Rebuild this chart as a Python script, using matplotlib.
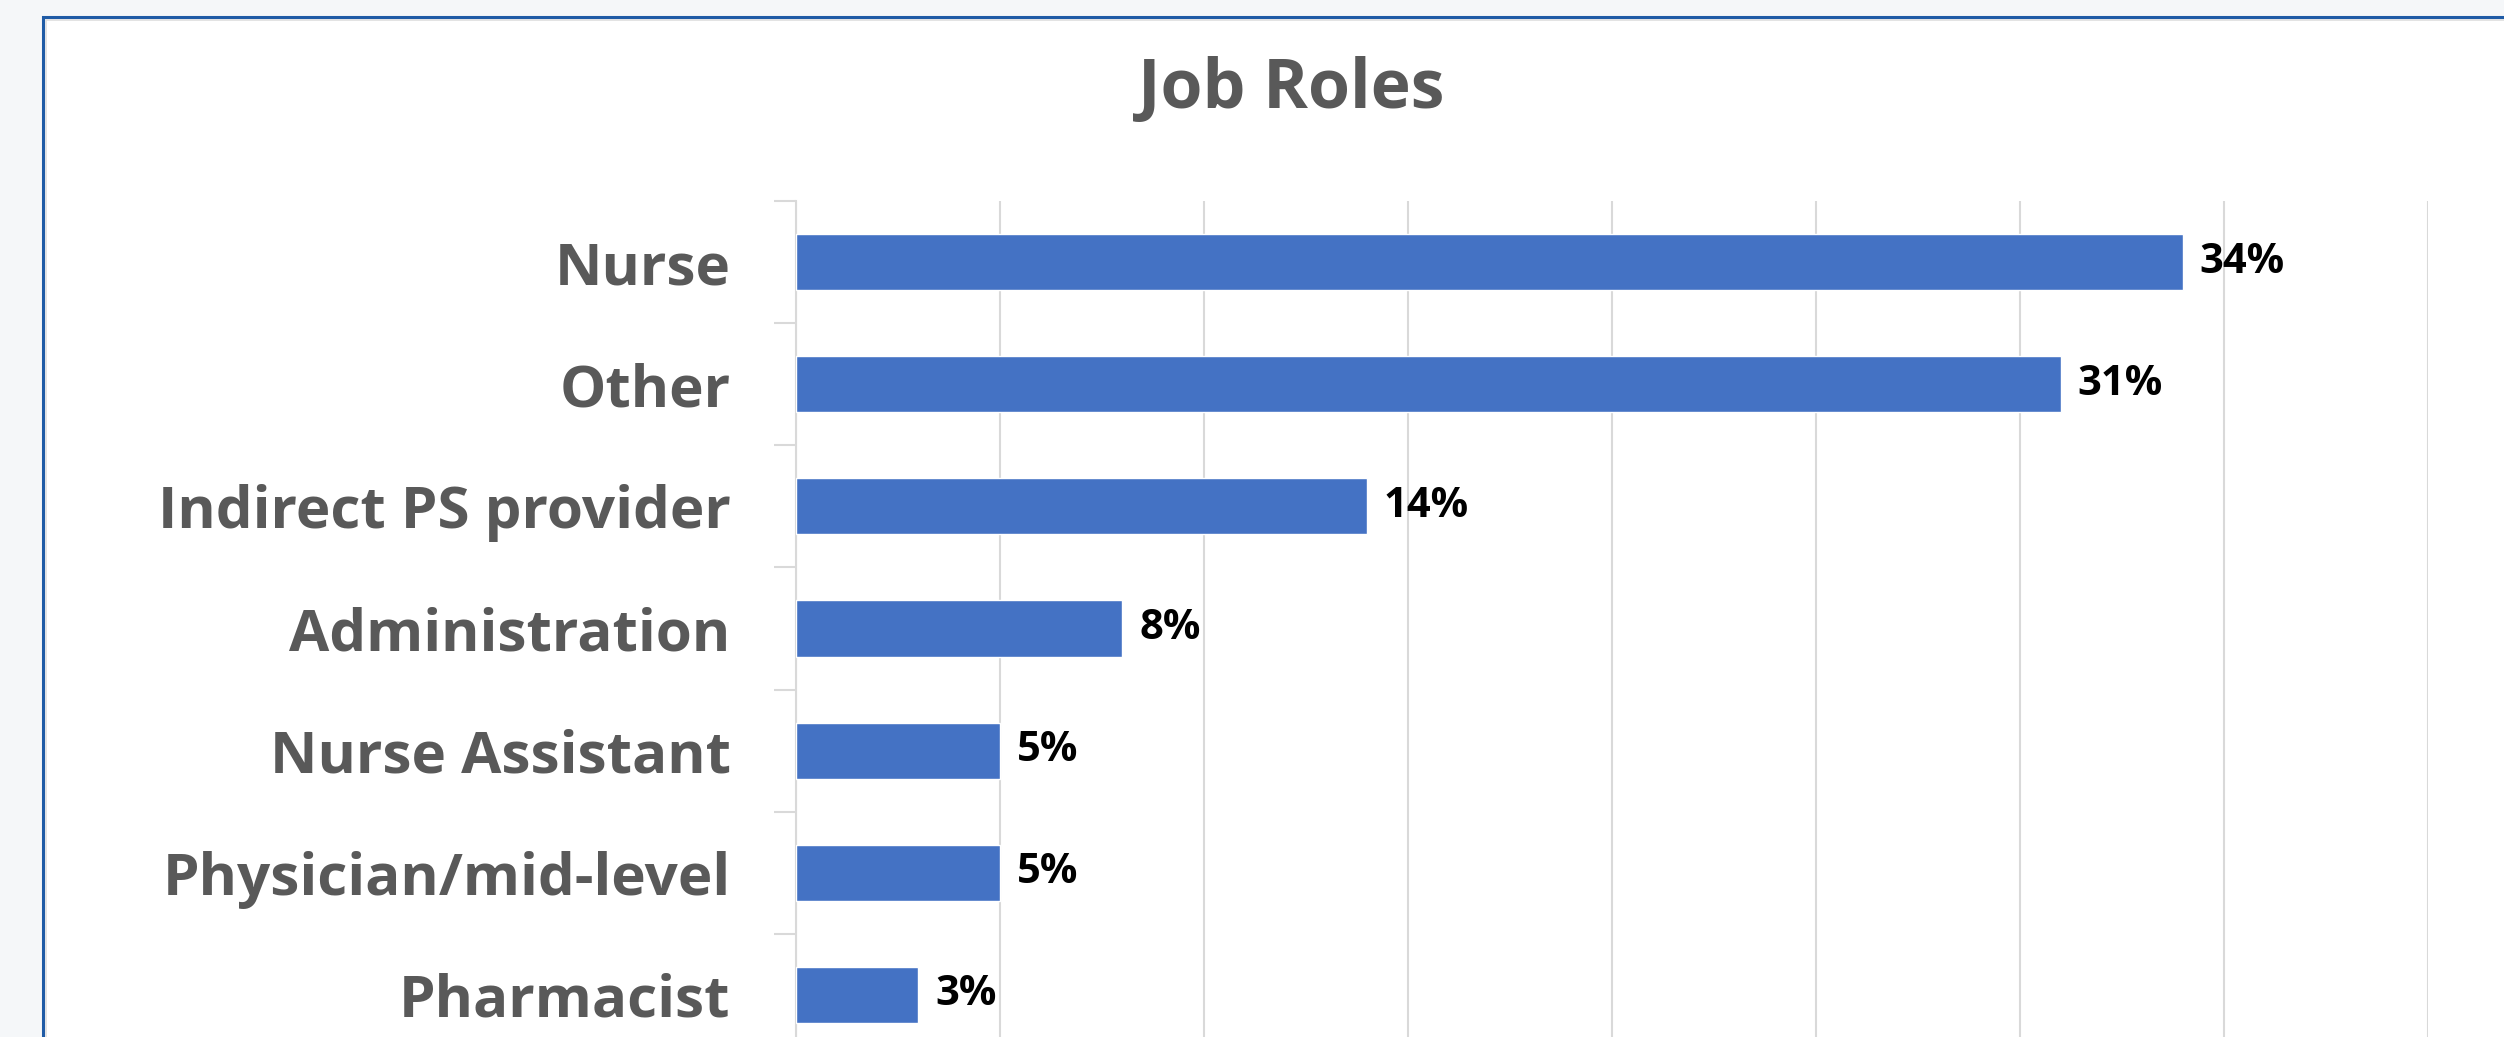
import numpy as np
import matplotlib.pyplot as plt
from matplotlib.patches import Rectangle
from matplotlib.ticker import MultipleLocator, FixedLocator

plt.rcParams['font.family'] = ['Open Sans', 'DejaVu Sans']

roles = ['Nurse', 'Other', 'Indirect PS provider', 'Administration',
         'Nurse Assistant', 'Physician/mid-level', 'Pharmacist']
shares = [34, 31, 14, 8, 5, 5, 3]

W, H = 2504, 1037
fig = plt.figure(figsize=(W / 100, H / 100), dpi=100)
fig.patch.set_facecolor('#f5f7f9')

# chart frame, runs off the right and bottom edges
fig.patches.append(Rectangle((43 / W, -0.2), 1.2, 1.2 - 17 / H, transform=fig.transFigure,
                             facecolor='white', edgecolor='#1f5ba6', linewidth=2.2, zorder=-2))
fig.patches.append(Rectangle((46 / W, -0.2), 1.2, 1.2 - 20 / H, transform=fig.transFigure,
                             facecolor='none', edgecolor='#dedede', linewidth=1.2, zorder=-1))

ax = fig.add_axes([796 / W, 1 - 1056 / H, (2428 - 796) / W, 855 / H])
ax.set_facecolor('none')

y = np.arange(len(roles))
bars = ax.barh(y, shares, height=0.46, color='#4472c4', edgecolor='white', linewidth=1.0, zorder=3)
ax.bar_label(bars, labels=[f'{v}%' for v in shares], padding=12,
             fontsize=30, fontweight='bold', color='black')

ax.set_xlim(0, 40)
ax.set_ylim(len(roles) - 0.5, -0.5)
ax.xaxis.set_major_locator(MultipleLocator(5))
ax.grid(axis='x', color='#d9d9d9', linewidth=1.5, zorder=0)
ax.tick_params(axis='x', length=0, labelbottom=False)

ax.set_yticks(y)
ax.set_yticklabels(roles, fontsize=42, fontweight='bold', color='#595959')
ax.yaxis.set_minor_locator(FixedLocator(np.arange(-0.5, len(roles), 1.0)))
ax.tick_params(axis='y', which='major', length=0, pad=47)
ax.tick_params(axis='y', which='minor', length=16, width=1.5, color='#d9d9d9')

for side in ['top', 'right', 'bottom']:
    ax.spines[side].set_visible(False)
ax.spines['left'].set_color('#d9d9d9')
ax.spines['left'].set_linewidth(1.5)

fig.text(1291 / W, 1 - 108 / H, 'Job Roles', ha='center', va='baseline',
         fontsize=49, fontweight='bold', color='#595959')

plt.savefig('out.png', dpi=100, facecolor=fig.get_facecolor())
